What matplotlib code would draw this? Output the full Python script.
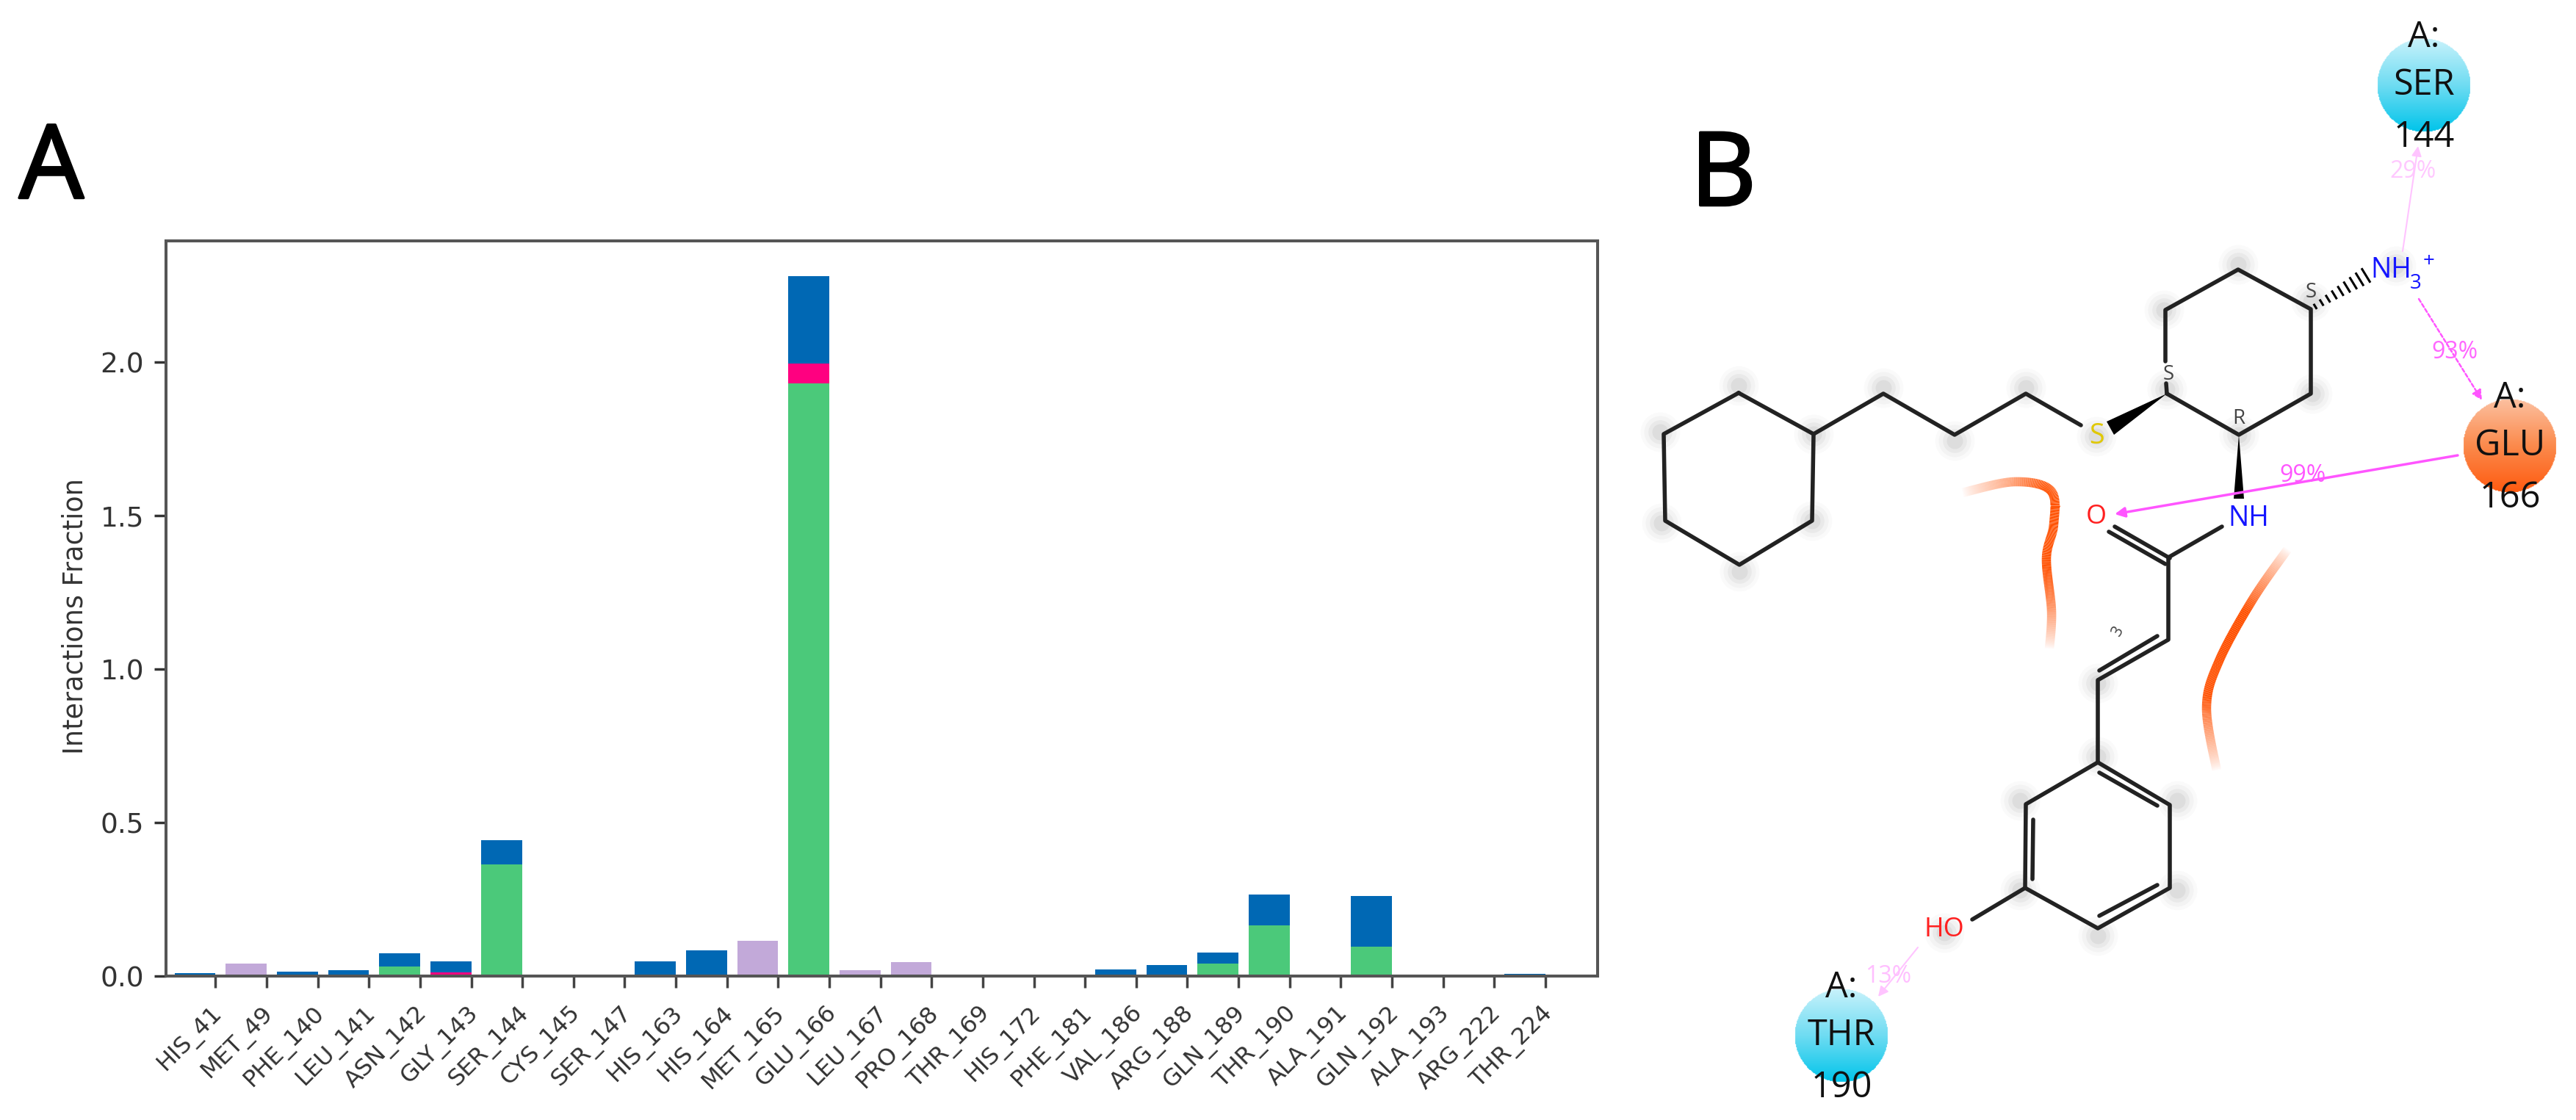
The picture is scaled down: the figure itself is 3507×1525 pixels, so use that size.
import numpy as np
import matplotlib
matplotlib.use('Agg')
import matplotlib.pyplot as plt
import matplotlib.patheffects as pe
from matplotlib.collections import LineCollection
from matplotlib.patches import Polygon
from matplotlib.transforms import ScaledTranslation

W, H = 3507, 1525
DPI = 100

# panel A data
residues = ['HIS_41', 'MET_49', 'PHE_140', 'LEU_141', 'ASN_142', 'GLY_143', 'SER_144', 'CYS_145', 'SER_147',
            'HIS_163', 'HIS_164', 'MET_165', 'GLU_166', 'LEU_167', 'PRO_168', 'THR_169', 'HIS_172', 'PHE_181',
            'VAL_186', 'ARG_188', 'GLN_189', 'THR_190', 'ALA_191', 'GLN_192', 'ALA_193', 'ARG_222', 'THR_224']
hbond = [0, 0, 0, 0, 0.032, 0, 0.363, 0, 0, 0, 0, 0, 1.93, 0, 0, 0, 0, 0, 0, 0, 0.04, 0.165, 0, 0.096, 0, 0, 0]
hydrophobic = [0, 0.041, 0, 0, 0, 0, 0, 0, 0, 0, 0, 0.114, 0, 0.02, 0.045, 0, 0, 0, 0, 0, 0, 0, 0, 0, 0, 0, 0]
ionic = [0, 0, 0, 0, 0, 0.012, 0, 0, 0, 0, 0, 0, 0.065, 0, 0, 0, 0, 0, 0, 0, 0, 0, 0, 0, 0, 0, 0]
water = [0.01, 0, 0.015, 0.02, 0.043, 0.035, 0.08, 0, 0, 0.047, 0.084, 0, 0.285, 0, 0, 0, 0, 0, 0.022, 0.036,
         0.036, 0.1, 0, 0.164, 0, 0, 0.006]
yticks = [0.0, 0.5, 1.0, 1.5, 2.0]

# panel B drawing, all in image pixels
bonds = [
    [(2367, 535), (2469, 591), (2467, 709), (2368, 769), (2267, 709), (2265, 591), (2367, 535)],
    [(2469, 591), (2564, 536), (2661, 592), (2758, 536), (2833, 579)],
    [(2950, 536), (2949, 522)],
    [(2948, 492), (2948, 422), (3047, 367), (3146, 421), (3146, 536), (3048, 592), (2950, 536)],
    [(3025, 717), (2952, 759), (2952, 871), (2856, 926), (2856, 1038)],
    [(2879, 717), (2954, 760)],
    [(2871, 724), (2948, 768)],
    [(2937, 866), (2858, 913)],
    [(2856, 1038), (2954, 1096), (2954, 1209), (2856, 1264), (2757, 1209), (2758, 1095), (2856, 1038)],
    [(2858, 1052), (2937, 1097)],
    [(2768, 1116), (2767, 1197)],
    [(2858, 1247), (2937, 1205)],
    [(2757, 1209), (2685, 1252)],
]
wedges = [
    [(2950, 536), (2868, 574), (2878, 592)],
    [(3048, 592), (3041, 679), (3055, 679)],
]
hash_start, hash_end = (3146, 421), (3221, 375)
halos = [(2367, 525), (2469, 591), (2467, 709), (2368, 778), (2262, 712), (2260, 588), (2564, 528), (2661, 600),
         (2758, 528), (2854, 594), (2946, 422), (3047, 360), (3146, 410), (3148, 536), (3048, 592), (3262, 362),
         (2950, 530), (2856, 930), (2856, 1030), (2964, 1090), (2964, 1212), (2856, 1274), (2750, 1212),
         (2750, 1090), (2647, 1270)]
curve1 = [(2671, 671), (2742, 656), (2792, 668), (2796, 714), (2786, 760), (2793, 832), (2790, 884)]
curve2 = [(3115, 747), (3067, 816), (3021, 900), (3004, 963), (3018, 1050)]

residue_nodes = [
    ('SER', '144', (3300, 116), '#6fdcf2'),
    ('GLU', '166', (3417, 607), '#fb8a4c'),
    ('THR', '190', (2507, 1410), '#6fdcf2'),
]
arrows = [
    ((3271, 342), (3292, 199), '#ffc4ff', '-', 1.5),
    ((3293, 407), (3379, 545), '#ff55ff', (0, (2, 1.2)), 1.8),
    ((3346, 620), (2879, 700), '#ff55ff', '-', 2.5),
    ((2611, 1290), (2557, 1357), '#ffc4ff', '-', 1.5),
]
pct_labels = [('29%', (3285, 234), '#ffc8ff'), ('93%', (3342, 480), '#ff66ff'),
              ('99%', (3135, 648), '#ff55ff'), ('13%', (2571, 1329), '#ffbfff')]
atom_labels = [('S', (2854, 594), '#e0c800', 27), ('O', (2854, 704), '#ff2020', 26), ('NH', (3061, 706), '#1515ff', 27),
               ('HO', (2647, 1266), '#ff2020', 26), ('NH', (3255, 368), '#1515ff', 27), ('3', (3289, 386), '#1515ff', 20),
               ('+', (3307, 356), '#1515ff', 20)]
stereo_labels = [('S', (3146, 398)), ('S', (2952, 510)), ('R', (3048, 570))]


def smooth(pts, n=40):
    # catmull-rom through the points, only for the orange ribbons
    p = np.array([pts[0]] + list(pts) + [pts[-1]], dtype=float)
    out = []
    for i in range(1, len(p) - 2):
        t = np.linspace(0, 1, n)[:, None]
        out.append(0.5 * (2 * p[i] + (p[i + 1] - p[i - 1]) * t
                          + (2 * p[i - 1] - 5 * p[i] + 4 * p[i + 1] - p[i + 2]) * t ** 2
                          + (3 * p[i] - p[i - 1] - 3 * p[i + 1] + p[i + 2]) * t ** 3))
    return np.vstack(out)


def ribbon(ax, pts):
    xy = smooth(pts)
    segs = np.stack([xy[:-1], xy[1:]], axis=1)
    t = np.linspace(0, 1, len(segs))
    alpha = np.clip(np.minimum(t, 1 - t) / 0.3, 0, 1)
    cols = np.zeros((len(segs), 4))
    cols[:, :3] = matplotlib.colors.to_rgb('#ff5000')
    cols[:, 3] = alpha
    ax.add_collection(LineCollection(segs, colors=cols, linewidths=9, capstyle='butt'))


plt.rcParams['font.family'] = ['DejaVu Sans']
fig = plt.figure(figsize=(W / DPI, H / DPI), dpi=DPI)

# bar panel, bars hang left of their tick
ax = fig.add_axes([226 / W, 1 - 1329 / H, (2175 - 226) / W, (1329 - 328) / H])
x = np.arange(len(residues))
bottom = np.zeros(len(residues))
for vals, col in [(hbond, '#4bc97a'), (hydrophobic, '#c2a9d9'), (ionic, '#ff0080'), (water, '#0068b4')]:
    ax.bar(x, vals, width=-0.8, align='edge', bottom=bottom, color=col)
    bottom += np.array(vals)
ax.set_xlim(-0.967, 27.02)
ax.set_ylim(0, 2.395)
ax.set_xticks(x)
ax.set_xticklabels(residues, rotation=45, ha='right', fontsize=23, color='#333333')
ax.set_yticks(yticks)
ax.tick_params(axis='y', labelsize=27, length=11.5, width=2.5, pad=10, colors='#333333')
ax.tick_params(axis='x', length=11.5, width=2.5, pad=14, color='#444444')
# tick_params resets the label transform, so the shift has to come after it
shift = ScaledTranslation(16 / DPI, 0, fig.dpi_scale_trans)
for lab in ax.get_xticklabels():
    lab.set_transform(lab.get_transform() + shift)
ax.set_ylabel('Interactions Fraction', fontsize=26.4, color='#333333')
ax.yaxis.set_label_coords(-0.054, 0.4895)
for s in ax.spines.values():
    s.set_linewidth(2.9)
    s.set_color('#555555')

# overlay in image pixels for the letters and the ligand diagram
ov = fig.add_axes([0, 0, 1, 1], facecolor='none')
ov.set_xlim(0, W)
ov.set_ylim(H, 0)
ov.axis('off')

heavy = [pe.withStroke(linewidth=2.5, foreground='black')]
ov.text(70, 233, 'A', fontsize=100, family='Open Sans', ha='center', va='center', color='black', path_effects=heavy)
ov.text(2346, 243, 'B', fontsize=100, family='Open Sans', ha='center', va='center', color='black', path_effects=heavy)

hx, hy = zip(*halos)
for size, a in [(1500, 0.03), (1000, 0.05), (550, 0.08), (250, 0.1)]:
    ov.scatter(hx, hy, s=size, color='#777777', alpha=a, linewidths=0)

ribbon(ov, curve1)
ribbon(ov, curve2)

for pts in bonds:
    xs, ys = zip(*pts)
    ov.plot(xs, ys, color='#222222', lw=4.0, solid_capstyle='round', solid_joinstyle='round')
for tri in wedges:
    ov.add_patch(Polygon(tri, closed=True, color='black', lw=0))
for f in np.linspace(0.08, 1, 9):
    cx = hash_start[0] + f * (hash_end[0] - hash_start[0])
    cy = hash_start[1] + f * (hash_end[1] - hash_start[1])
    d = 2 + 8 * f
    ov.plot([cx - 0.52 * d, cx + 0.52 * d], [cy - 0.85 * d, cy + 0.85 * d], color='black', lw=2.2)

for start, end, col, ls, lw in arrows:
    ov.annotate('', xy=end, xytext=start, xycoords='data', textcoords='data',
                arrowprops=dict(arrowstyle='-|>', color=col, lw=lw, ls=ls, mutation_scale=20,
                                shrinkA=0, shrinkB=0))

for name, num, (cx, cy), col in residue_nodes:
    # soft shading: pale at the top, saturated low down
    r = 64
    n = 120
    yy, xx = np.mgrid[-1:1:complex(0, n), -1:1:complex(0, n)]
    rgb = np.array(matplotlib.colors.to_rgb(col))
    deep = np.array(matplotlib.colors.to_rgb('#00c4ea' if name != 'GLU' else '#ff5a10'))
    pale = np.array(matplotlib.colors.to_rgb('#c8f2fb' if name != 'GLU' else '#fcc0a0'))
    t = np.clip((yy + 1) / 2, 0, 1)[..., None]
    img = np.where(t < 0.5, pale + (rgb - pale) * t * 2, rgb + (deep - rgb) * (t - 0.5) * 2)
    alpha = (xx ** 2 + yy ** 2 <= 1).astype(float)
    ov.imshow(np.dstack([img, alpha]), extent=[cx - r, cx + r, cy + r, cy - r], aspect='auto', zorder=3,
              interpolation='bilinear')
    ov.text(cx, cy - 65, 'A:', fontsize=35, family='Open Sans', ha='center', va='center', color='#111111', zorder=4)
    ov.text(cx, cy, name, fontsize=35, family='Open Sans', ha='center', va='center', color='#111111', zorder=4)
    ov.text(cx, cy + 71, num, fontsize=35, family='Open Sans', ha='center', va='center', color='#111111', zorder=4)

for txt, (px, py), col in pct_labels:
    ov.text(px, py, txt, fontsize=23, family='Open Sans', ha='center', va='center', color=col, zorder=5)
for txt, (px, py), col, fs in atom_labels:
    ov.text(px, py, txt, fontsize=fs, family='Open Sans', ha='center', va='center', color=col, zorder=5)
for txt, (px, py) in stereo_labels:
    ov.text(px, py, txt, fontsize=20, family='Open Sans', ha='center', va='center', color='#444444', zorder=5)
ov.text(2883, 860, '3', fontsize=15, family='Open Sans', ha='center', va='center', color='#444444', rotation=60)

ov.set_xlim(0, W)
ov.set_ylim(H, 0)
fig.savefig('out.png', dpi=DPI, facecolor='white')
